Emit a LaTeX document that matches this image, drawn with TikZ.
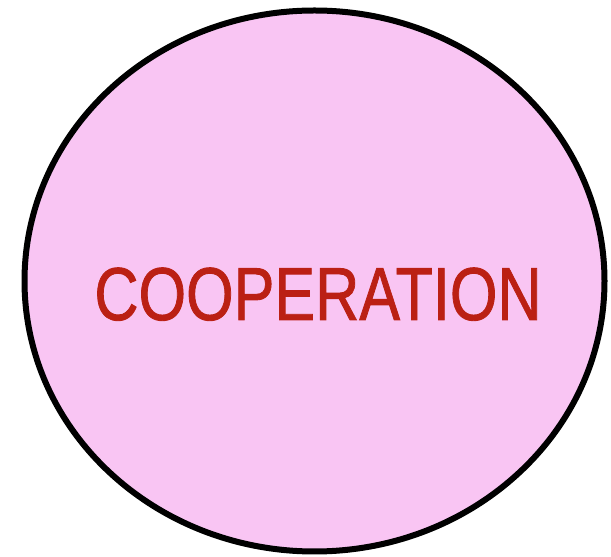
\documentclass[tikz,border=0pt]{standalone}
\usepackage{fontspec}
\setmainfont{Liberation Sans}
\newfontfamily\labelfont[FakeBold=1.2]{Liberation Sans}
\definecolor{pinkfill}{HTML}{F9C5F3}
\definecolor{textred}{HTML}{BB2014}
\begin{document}
\begin{tikzpicture}[x=1pt,y=1pt,
  blob/.style={draw=black,line width=6pt,fill=pinkfill},
  label/.style={text=textred,font=\labelfont\fontsize{75}{75}\selectfont,xscale=0.815,inner sep=0pt,anchor=base}]
\useasboundingbox (0,0) rectangle (611,557);
\draw[blob] (314.5,276) ellipse [x radius=290, y radius=270.5];
\node[label] (t) at (318,237) {COOPERATION};
\end{tikzpicture}
\end{document}
